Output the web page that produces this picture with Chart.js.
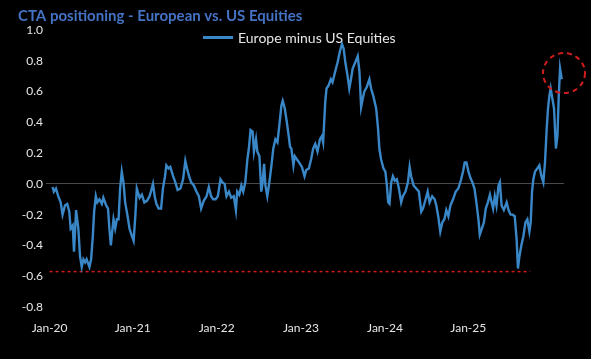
<!DOCTYPE html>
<html>
<head>
<meta charset="utf-8">
<title>CTA positioning - European vs. US Equities</title>
<script src="https://cdn.jsdelivr.net/npm/chart.js@4.4.1/dist/chart.umd.min.js"></script>
<style>
  html, body { margin: 0; padding: 0; background: #000; }
  #wrap { position: relative; width: 591px; height: 359px; }
  #legend {
    position: absolute; left: 203px; top: 29px;
    font: 14px Lato, sans-serif; color: #e6e6e6;
    display: flex; align-items: center; white-space: nowrap;
  }
  #legend .swatch { display: inline-block; width: 30px; height: 2.5px; margin-right: 5px; }
</style>
</head>
<body>
<div id="wrap">
  <canvas id="ctaChart" width="591" height="359"></canvas>
  <div id="legend"></div>
</div>
<script>
// weeks since start of Jan 2020
const weeks = [
  0, 0.7, 1.8, 3.0, 4.3, 5.3, 6.6, 7.8, 8.9, 9.6, 10.7, 11.4, 12.5, 13.7, 14.6, 15.5, 16.4, 17.3, 18.1, 19.6,
  20.5, 21.4, 22.1, 23.0, 23.8, 24.9, 26.2, 27.0, 28.5, 29.5, 30.2, 31.0, 31.7, 32.4, 33.3, 34.2, 35.1, 35.9, 36.8, 37.7,
  38.6, 39.9, 40.9, 42.2, 43.1, 44.0, 44.8, 46.3, 47.5, 48.8, 50.2, 51.6, 52.3, 53.4, 54.3, 55.2, 56.4, 57.7, 58.7, 59.8,
  60.5, 61.7, 62.6, 64.1, 65.3, 66.5, 68.0, 69.4, 70.6, 71.5, 72.6, 73.7, 75.1, 76.5, 77.8, 79.0, 80.4, 81.9, 83.1, 84.3,
  85.4, 86.7, 87.9, 89.3, 90.4, 91.5, 92.5, 93.8, 95.0, 96.4, 97.5, 98.2, 99.3, 100.4, 101.4, 102.5, 103.6, 104.4, 105.3, 106.4,
  107.1, 108.2, 108.9, 110.0, 111.0, 111.7, 112.5, 113.2, 114.2, 115.3, 116.4, 117.4, 118.5, 119.6, 120.6, 121.7, 122.4, 123.5, 124.6, 125.6,
  126.3, 127.0, 128.1, 128.8, 129.9, 131.1, 132.6, 134.0, 134.9, 136.3, 137.5, 138.6, 139.7, 140.9, 142.2, 143.2, 143.9, 145.0, 145.7, 146.8,
  148.0, 148.9, 150.3, 151.6, 152.8, 153.9, 154.8, 155.7, 156.9, 157.8, 158.7, 159.6, 161.0, 162.3, 163.2, 164.1, 164.9, 165.8, 167.1, 168.5,
  169.4, 170.6, 172.1, 173.1, 173.8, 174.7, 176.0, 177.0, 177.8, 178.5, 179.2, 180.1, 181.0, 182.0, 183.1, 184.2, 185.4, 186.3, 187.7, 189.0,
  189.9, 190.7, 192.0, 193.4, 194.8, 196.1, 197.0, 198.4, 199.5, 200.5, 201.9, 203.2, 204.1, 205.1, 206.2, 207.3, 208.4, 209.4, 210.5, 211.6,
  213.0, 214.4, 215.8, 217.3, 218.3, 219.2, 220.1, 221.2, 222.2, 223.3, 224.4, 225.4, 226.5, 227.2, 228.3, 229.4, 230.4, 231.5, 232.6, 233.5,
  234.3, 235.2, 236.1, 237.2, 237.9, 238.8, 240.0, 241.5, 242.5, 243.6, 244.7, 245.8, 246.8, 247.5, 248.3, 249.3, 250.4, 251.5, 252.5, 253.6,
  254.3, 255.0, 255.7, 256.6, 257.8, 258.9, 260.0, 261.0, 261.9, 262.8, 263.5, 264.2, 264.9, 265.6, 266.7, 267.7, 268.5, 269.2, 269.9, 270.8
];

// Europe minus US equities CTA positioning
const europeMinusUS = [
  -0.02, -0.05, -0.03, -0.08, -0.12, -0.20, -0.14, -0.13, -0.18, -0.29, -0.27, -0.44, -0.17, -0.29, -0.47, -0.54, -0.49, -0.51, -0.49, -0.54,
  -0.49, -0.34, -0.18, -0.08, -0.12, -0.10, -0.13, -0.09, -0.14, -0.16, -0.29, -0.40, -0.31, -0.23, -0.29, -0.23, -0.23, -0.03, 0.08, 0.01,
  -0.12, -0.21, -0.29, -0.34, -0.37, -0.21, -0.03, -0.09, -0.07, -0.12, -0.11, -0.08, -0.05, 0.00, -0.08, -0.13, -0.16, -0.16, -0.03, 0.05,
  0.12, 0.10, 0.11, 0.05, 0.01, -0.04, -0.03, 0.03, 0.15, 0.10, 0.05, 0.01, -0.01, -0.05, -0.08, -0.16, -0.11, -0.08, -0.02, -0.08,
  -0.10, -0.10, -0.08, 0.03, 0.01, 0.00, -0.08, -0.05, -0.09, -0.08, -0.17, -0.05, -0.07, -0.01, -0.05, 0.01, 0.16, 0.23, 0.35, 0.34,
  0.21, 0.29, 0.21, 0.18, -0.05, 0.01, 0.13, -0.01, -0.08, 0.01, 0.12, 0.23, 0.29, 0.27, 0.38, 0.51, 0.54, 0.49, 0.40, 0.31,
  0.24, 0.23, 0.12, 0.18, 0.16, 0.14, 0.11, 0.05, 0.09, 0.10, 0.16, 0.23, 0.26, 0.21, 0.29, 0.31, 0.27, 0.53, 0.62, 0.64,
  0.68, 0.66, 0.73, 0.79, 0.86, 0.91, 0.88, 0.79, 0.70, 0.62, 0.68, 0.75, 0.79, 0.83, 0.73, 0.50, 0.55, 0.60, 0.63, 0.68,
  0.62, 0.57, 0.49, 0.36, 0.23, 0.16, 0.10, 0.08, -0.01, -0.12, -0.13, 0.01, 0.05, 0.02, 0.03, -0.03, -0.12, -0.08, -0.05, 0.01,
  0.11, 0.05, -0.01, -0.03, -0.05, -0.18, -0.16, -0.10, -0.05, -0.12, -0.08, -0.10, -0.14, -0.21, -0.31, -0.25, -0.23, -0.17, -0.21, -0.14,
  -0.10, -0.05, -0.03, 0.03, 0.08, 0.14, 0.14, 0.08, 0.04, 0.01, -0.03, -0.12, -0.23, -0.33, -0.29, -0.25, -0.16, -0.12, -0.07, -0.12,
  -0.16, -0.08, -0.14, -0.01, 0.01, -0.14, -0.17, -0.12, -0.17, -0.20, -0.20, -0.21, -0.36, -0.55, -0.47, -0.40, -0.34, -0.25, -0.23, -0.31,
  -0.25, -0.05, 0.03, 0.08, 0.10, 0.12, 0.05, 0.01, 0.14, 0.36, 0.49, 0.57, 0.62, 0.57, 0.49, 0.23, 0.31, 0.57, 0.75, 0.68
];

// x-axis tick labels and the week positions they sit at in the picture
const tickLabels = ["Jan-20", "Jan-21", "Jan-22", "Jan-23", "Jan-24", "Jan-25"];
const tickWeeks = [-1.6, 42.6, 87.3, 132.1, 176.8, 221.1];

// red dashed floor line (prior low) and the circled latest reading
const floorWeeks = [-1.6, 254];
const floorValue = -0.57;
const highlightWeek = 272;
const highlightValue = 0.72;

const BLUE = "#3a87c8";
const RED = "#d01c1c";
const TEXT = "#e6e6e6";

const floorLine = floorWeeks.map(w => ({ x: w, y: floorValue }));
const series = weeks.map((w, i) => ({ x: w, y: europeMinusUS[i] }));

/* black background */
const bgPlugin = {
    id: "bg",
    beforeDraw(chart) {
        const c = chart.ctx;
        c.save();
        c.fillStyle = "#000";
        c.fillRect(0, 0, chart.width, chart.height);
        c.restore();
    }
};

/* dashed circle around the latest reading */
const circlePlugin = {
    id: "circle",
    afterDatasetsDraw(chart) {
        const c = chart.ctx;
        const px = chart.scales.x.getPixelForValue(highlightWeek);
        const py = chart.scales.y.getPixelForValue(highlightValue);
        c.save();
        c.strokeStyle = RED;
        c.lineWidth = 2;
        c.setLineDash([5, 4]);
        c.beginPath();
        c.ellipse(px, py, 21, 20, 0, 0, Math.PI * 2);
        c.stroke();
        c.restore();
    }
};

const chart = new Chart(document.getElementById("ctaChart"), {
    type: "line",
    data: {
        datasets: [{
            label: "Europe minus US Equities",
            data: series,
            borderColor: BLUE,
            backgroundColor: BLUE,
            borderWidth: 2.4,
            pointRadius: 0,
            tension: 0
        }, {
            label: "floor",
            data: floorLine,
            borderColor: RED,
            borderWidth: 1.5,
            borderDash: [3, 3],
            pointRadius: 0
        }]
    },
    options: {
        responsive: false,
        animation: false,
        layout: { padding: { left: 18, right: 27, top: 4, bottom: 22 } },
        plugins: {
            title: {
                display: true,
                text: "CTA positioning - European vs. US Equities",
                align: "start",
                color: "#4472c4",
                font: { family: "Lato", size: 15, weight: "bold" },
                padding: { top: 3, bottom: 5 }
            },
            legend: { display: false },
            tooltip: { enabled: false }
        },
        scales: {
            x: {
                type: "linear",
                min: -3.5,
                max: 272,
                afterBuildTicks: axis => {
                    axis.ticks = tickWeeks.map(v => ({ value: v }));
                },
                afterFit: scale => { scale.height = 30; },
                ticks: {
                    color: TEXT,
                    font: { family: "Lato", size: 12 },
                    padding: 14,
                    maxRotation: 0,
                    autoSkip: false,
                    callback: (v, i) => tickLabels[i]
                },
                grid: { display: false, drawTicks: false },
                border: { display: false }
            },
            y: {
                min: -0.8,
                max: 1.0,
                afterFit: scale => { scale.width = 28; },
                ticks: {
                    stepSize: 0.2,
                    color: TEXT,
                    font: { family: "Lato", size: 12 },
                    padding: 3,
                    callback: v => v.toFixed(1)
                },
                grid: {
                    drawTicks: false,
                    color: ctx => Math.abs(ctx.tick.value) < 1e-9 ? "#4a4a4a" : "transparent",
                    lineWidth: 1
                },
                border: { display: false }
            }
        }
    },
    plugins: [bgPlugin, circlePlugin]
});

/* legend drawn as html, sitting inside the plot area as in the original */
const ds = chart.data.datasets[0];
document.getElementById("legend").innerHTML =
    '<span class="swatch" style="background:' + ds.borderColor + '"></span>' + ds.label;
</script>
</body>
</html>
